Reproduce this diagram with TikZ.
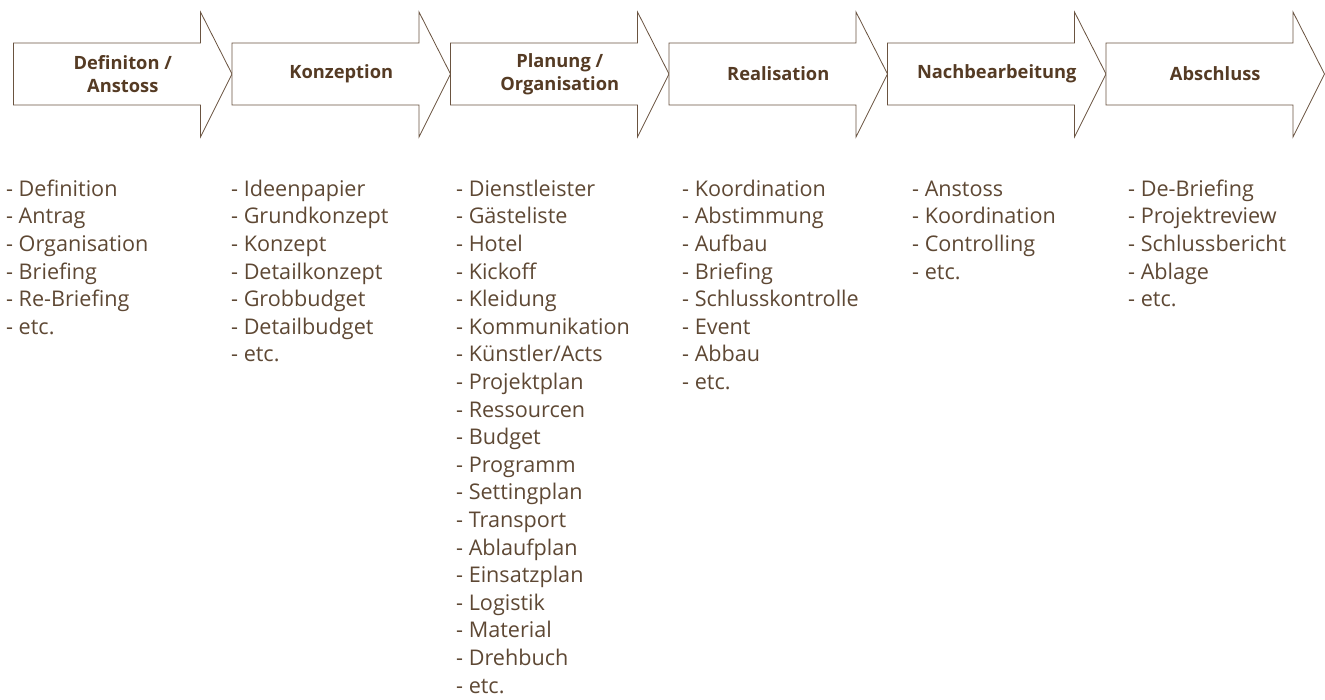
\documentclass[tikz,border=0pt]{standalone}
\usepackage{fontspec}
\setmainfont{Open Sans}
\usepackage{tikz}

\definecolor{linie}{HTML}{6A5340}
\definecolor{titelfarbe}{HTML}{553B24}
\definecolor{textfarbe}{HTML}{5E4834}

\begin{document}
\begin{tikzpicture}[x=1pt, y=-1pt,
    pfeil/.style={draw=linie, fill=white, line width=0.8pt, line join=miter},
    titel/.style={text=titelfarbe, font={\bfseries\fontsize{18.3}{23}\selectfont}, align=center, inner sep=0pt},
    liste/.style={text=textfarbe, font={\fontsize{21.6}{27.6}\selectfont}, align=left, anchor=north west, inner sep=0pt}]
    \useasboundingbox (0,0) rectangle (1325,700);

    % Phasen als Pfeile
    \foreach \i/\name/\txt in {0/def/{Definiton /\\Anstoss}, 1/konz/Konzeption,
        2/plan/{Planung /\\Organisation}, 3/real/Realisation,
        4/nach/Nachbearbeitung, 5/absch/Abschluss} {
      \pgfmathsetmacro{\xs}{13.5+218.5*\i}
      \draw[pfeil] (\xs,43) -- ++(187,0) -- ++(0,-31) -- ++(31.5,62)
        -- ++(-31.5,63) -- ++(0,-32) -- ++(-187,0) -- cycle;
      \node[titel] (\name) at (\xs+109.25,74) {\txt};
    }

    % Aufgaben je Phase (erste Zeile mit \strut, Grundlinie bei 196)
    \node[liste] (def-liste) at (6,176.7) {\strut- Definition\\- Antrag\\- Organisation\\- Briefing\\- Re-Briefing\\- etc.};
    \node[liste] (konz-liste) at (231,176.7) {\strut- Ideenpapier\\- Grundkonzept\\- Konzept\\- Detailkonzept\\- Grobbudget\\- Detailbudget\\- etc.};
    \node[liste] (plan-liste) at (456,176.7) {\strut- Dienstleister\\- Gästeliste\\- Hotel\\- Kickoff\\- Kleidung\\- Kommunikation\\- Künstler/Acts\\- Projektplan\\- Ressourcen\\- Budget\\- Programm\\- Settingplan\\- Transport\\- Ablaufplan\\- Einsatzplan\\- Logistik\\- Material\\- Drehbuch\\- etc.};
    \node[liste] (real-liste) at (682,176.7) {\strut- Koordination\\- Abstimmung\\- Aufbau\\- Briefing\\- Schlusskontrolle\\- Event\\- Abbau\\- etc.};
    \node[liste] (nach-liste) at (912,176.7) {\strut- Anstoss\\- Koordination\\- Controlling\\- etc.};
    \node[liste] (absch-liste) at (1128,176.7) {\strut- De-Briefing\\- Projektreview\\- Schlussbericht\\- Ablage\\- etc.};
\end{tikzpicture}
\end{document}
